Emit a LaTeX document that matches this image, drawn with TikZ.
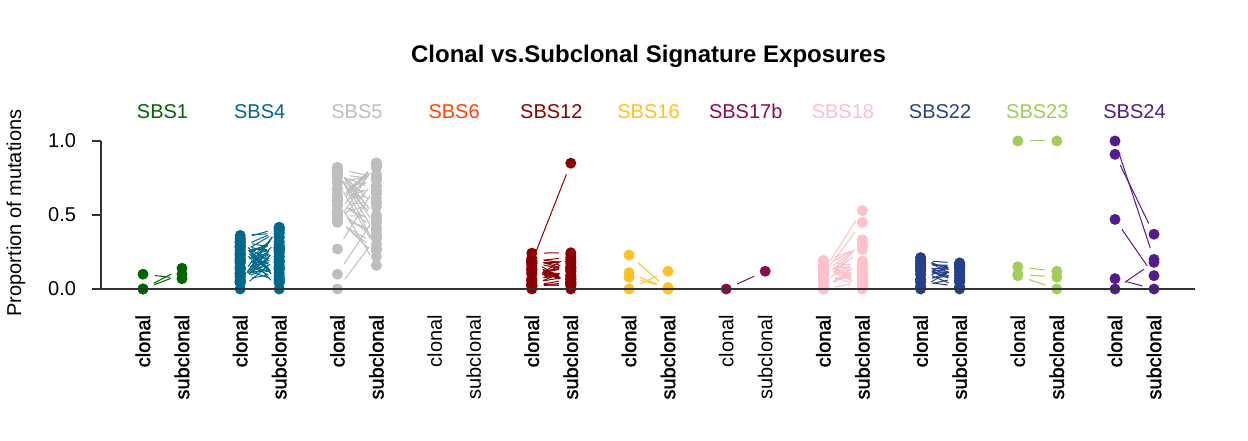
\documentclass[tikz,border=0pt]{standalone}
\usepackage{fontspec}
\setmainfont{Liberation Sans}
\newfontfamily\wHeavy[FakeBold=1.5]{Liberation Sans}
\newfontfamily\wMed[FakeBold=0.6]{Liberation Sans}
\newfontfamily\wReg{Liberation Sans}
\definecolor{c1}{RGB}{0,100,0}
\definecolor{c4}{RGB}{0,104,139}
\definecolor{c5}{RGB}{190,190,190}
\definecolor{c6}{RGB}{255,69,0}
\definecolor{c12}{RGB}{139,0,0}
\definecolor{c16}{RGB}{255,193,37}
\definecolor{c17}{RGB}{139,10,80}
\definecolor{c18}{RGB}{255,192,203}
\definecolor{c22}{RGB}{39,64,139}
\definecolor{c23}{RGB}{162,205,90}
\definecolor{c24}{RGB}{85,26,139}
\newcommand\smp[5]{%
  \node[pt,fill=#3] (#1a) at (#2,{151+148*(#4)}) {};
  \node[pt,fill=#3] (#1b) at ({#2+39},{151+148*(#5)}) {};
  \draw[link,draw=#3] (#1a) -- (#1b);
}
\begin{document}
\begin{tikzpicture}[x=1pt,y=1pt,
  pt/.style={circle,inner sep=0pt,outer sep=0pt,minimum size=11pt,draw=none},
  link/.style={line width=1pt,shorten <=6.5pt,shorten >=6.5pt},
  axisline/.style={line width=1.2pt,draw=black!80},
  txt/.style={font=\fontsize{20}{24}\selectfont,inner sep=0pt,outer sep=0pt}]
\useasboundingbox[fill=white] (0,0) rectangle (1248,440);

% title
\node[font=\fontsize{24}{28}\selectfont\bfseries,anchor=base,inner sep=0pt] (title) at (648.5,377.7) {Clonal vs.Subclonal Signature Exposures};

% y axis
\coordinate (ax0) at (101,151);
\coordinate (ax5) at (101,225);
\coordinate (ax1) at (101,299);
\coordinate (tk0) at (91.5,151);
\coordinate (tk5) at (91.5,225);
\coordinate (tk1) at (91.5,299);
\draw[axisline] (ax0) -- (ax1);
\draw[axisline] (ax0) -- (tk0);
\draw[axisline] (ax5) -- (tk5);
\draw[axisline] (ax1) -- (tk1);
\node[txt,anchor=east] (t0) at (76,151) {0.0};
\node[txt,anchor=east] (t5) at (76,225) {0.5};
\node[txt,anchor=east] (t1) at (76,299) {1.0};
\node[txt,rotate=90] (ylab) at (16,227) {Proportion of mutations};

% group labels and x labels
\foreach \n/\col/\i/\wc/\ws in {SBS1/c1/0/\wHeavy/\wHeavy, SBS4/c4/1/\wHeavy/\wHeavy,
  SBS5/c5/2/\wHeavy/\wHeavy, SBS6/c6/3/\wReg/\wReg, SBS12/c12/4/\wHeavy/\wHeavy,
  SBS16/c16/5/\wHeavy/\wHeavy, SBS17b/c17/6/\wReg/\wReg, SBS18/c18/7/\wHeavy/\wHeavy,
  SBS22/c22/8/\wHeavy/\wHeavy, SBS23/c23/9/\wMed/\wHeavy, SBS24/c24/10/\wHeavy/\wHeavy}{
  \node[txt,text=\col,anchor=base] (lab\i) at ({143+97.2*\i+19.5},321) {\n};
  \node[txt,rotate=90,anchor=east] (xc\i) at ({143+97.2*\i},125) {\wc clonal};
  \node[txt,rotate=90,anchor=east] (xs\i) at ({143+97.2*\i+39},125) {\ws subclonal};
}

\pgfmathsetseed{4321}
% SBS1
\smp{gA1}{143}{c1}{0}{0.14}
\smp{gA2}{143}{c1}{0}{0.10}
\smp{gA3}{143}{c1}{0.10}{0.07}
% SBS4
\smp{gB0}{240.2}{c4}{0}{0.22}
\smp{gBz}{240.2}{c4}{0.28}{0}
\foreach \i in {1,...,44}{
  \pgfmathsetmacro\cv{0.04+0.33*rnd}
  \pgfmathsetmacro\sv{0.04+0.38*rnd}
  \smp{gB\i}{240.2}{c4}{\cv}{\sv}
}
% SBS5
\smp{gC0}{337.4}{c5}{0}{0.35}
\smp{gCx}{337.4}{c5}{0.10}{0.50}
\smp{gCy}{337.4}{c5}{0.27}{0.70}
\smp{gCu}{337.4}{c5}{0.60}{0.16}
\smp{gCv}{337.4}{c5}{0.48}{0.22}
\foreach \i in {1,...,36}{
  \pgfmathsetmacro\cv{0.45+0.39*rnd}
  \pgfmathsetmacro\sv{0.25+0.62*rnd}
  \smp{gC\i}{337.4}{c5}{\cv}{\sv}
}
% SBS12
\smp{gE0}{531.8}{c12}{0}{0}
\smp{gEx}{531.8}{c12}{0.18}{0.85}
\foreach \i in {1,...,28}{
  \pgfmathsetmacro\cv{0.01+0.25*rnd}
  \pgfmathsetmacro\sv{0.01+0.26*rnd}
  \smp{gE\i}{531.8}{c12}{\cv}{\sv}
}
% SBS16
\smp{gF1}{629}{c16}{0.23}{0}
\smp{gF2}{629}{c16}{0.11}{0}
\smp{gF3}{629}{c16}{0.08}{0.01}
\smp{gF4}{629}{c16}{0}{0.12}
% SBS17b
\smp{gG1}{726.2}{c17}{0}{0.12}
% SBS18
\smp{gHx}{823.4}{c18}{0.12}{0.53}
\smp{gHy}{823.4}{c18}{0.10}{0.45}
\smp{gH0}{823.4}{c18}{0}{0}
\foreach \i in {1,...,26}{
  \pgfmathsetmacro\cv{0.2*rnd}
  \pgfmathsetmacro\sv{0.34*rnd}
  \smp{gH\i}{823.4}{c18}{\cv}{\sv}
}
% SBS22
\smp{gI0}{920.6}{c22}{0}{0}
\foreach \i in {1,...,22}{
  \pgfmathsetmacro\cv{0.22*rnd}
  \pgfmathsetmacro\sv{0.20*rnd}
  \smp{gI\i}{920.6}{c22}{\cv}{\sv}
}
% SBS23
\smp{gJ1}{1017.8}{c23}{1}{1}
\smp{gJ2}{1017.8}{c23}{0.15}{0.12}
\smp{gJ3}{1017.8}{c23}{0.10}{0.08}
\smp{gJ4}{1017.8}{c23}{0.09}{0}
% SBS24
\smp{gK1}{1115}{c24}{1}{0.20}
\smp{gK2}{1115}{c24}{0.91}{0.37}
\smp{gK3}{1115}{c24}{0.47}{0.09}
\smp{gK4}{1115}{c24}{0}{0.18}
\smp{gK5}{1115}{c24}{0.07}{0}

% baseline on top
\coordinate (bl1) at (1195,151);
\draw[axisline] (ax0) -- (bl1);
\end{tikzpicture}
\end{document}
